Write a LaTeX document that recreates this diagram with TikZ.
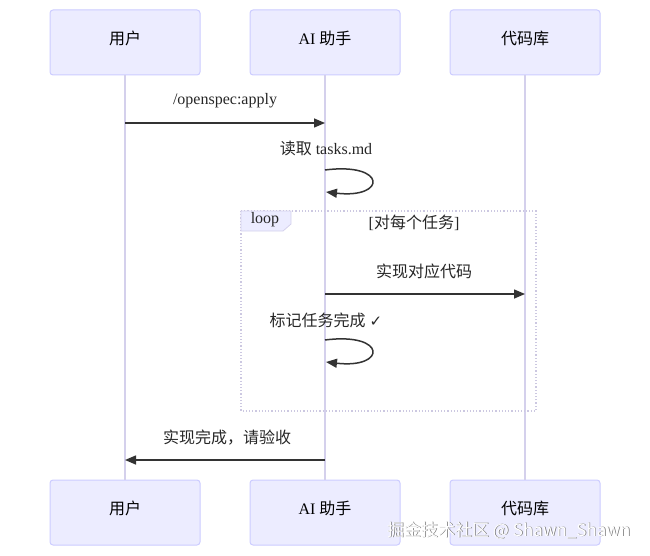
\documentclass[tikz,border=0pt]{standalone}
\usepackage{fontspec}
\setmainfont{Liberation Serif}
\newfontfamily\cjk{Noto Sans CJK SC}
\newfontfamily\symf{DejaVu Sans}
\usetikzlibrary{arrows.meta}
\definecolor{actfill}{HTML}{ECECFF}
\definecolor{actline}{HTML}{CCCCFF}
\definecolor{lifeline}{HTML}{D4D0EC}
\definecolor{msg}{HTML}{333333}
\newcommand{\actxt}[1]{\raisebox{10pt}{#1}}
\begin{document}
\begin{tikzpicture}[x=1pt,y=-1pt,
  actor/.style={draw=actline,fill=actfill,rounded corners=3pt,line width=1pt,minimum width=150pt,minimum height=65pt,inner sep=0pt,font=\fontsize{16}{19}\selectfont},
  life/.style={draw=lifeline,line width=1.2pt},
  msgline/.style={draw=msg,line width=1.5pt,-{Triangle[length=11pt,width=9pt]}},
  lbl/.style={inner sep=0pt,font=\fontsize{16}{19}\selectfont,text=black!85}]
\useasboundingbox (0,0) rectangle (650,556);
% actors
\node[actor] (u1) at (125,42.5) {\actxt{\cjk 用户}};
\node[actor] (a1) at (325,42.5) {\actxt{AI {\cjk 助手}}};
\node[actor] (c1) at (525,42.5) {\actxt{\cjk 代码库}};
\node[actor] (u2) at (125,512.5) {\actxt{\cjk 用户}};
\node[actor] (a2) at (325,512.5) {\actxt{AI {\cjk 助手}}};
\node[actor] (c2) at (525,512.5) {\actxt{\cjk 代码库}};
% lifelines
\draw[life] (u1.south) -- (u2.north);
\draw[life] (a1.south) -- (a2.north);
\draw[life] (c1.south) -- (c2.north);
% loop frame
\draw[draw=lifeline!90!gray,line width=1.2pt,dotted] (241,211) rectangle (536,411);
\draw[draw=lifeline,fill=actfill,line width=0.8pt] (241,211) -- (291,211) -- (291,224) -- (283,231) -- (241,231) -- cycle;
\node[lbl] (looplbl) at (265,220) {loop};
\node[lbl] (cond) at (414,223) {[{\cjk 对每个任务}]};
% coordinates on lifelines
\coordinate (m1s) at (125,123);
\coordinate (m1e) at (325,123);
\coordinate (s1a) at (325,170);
\coordinate (s1b) at (326,192);
\coordinate (m2s) at (325,294);
\coordinate (m2e) at (525,294);
\coordinate (s2a) at (325,340);
\coordinate (s2b) at (326,362);
\coordinate (m3s) at (325,460);
\coordinate (m3e) at (125,460);
% messages
\node[lbl] (l1) at (225,101) {/openspec:apply};
\draw[msgline] (m1s) -- (m1e);
\node[lbl] (l2) at (326,148) {{\cjk 读取} tasks.md};
\draw[msgline] (s1a) .. controls (387,162) and (387,199) .. (s1b);
\node[lbl] (l3) at (424,271) {{\cjk 实现对应代码}};
\draw[msgline] (m2s) -- (m2e);
\node[lbl] (l4) at (326,320) {{\cjk 标记任务完成} {\symf\fontsize{15}{18}\selectfont ✓}};
\draw[msgline] (s2a) .. controls (387,332) and (387,369) .. (s2b);
\node[lbl] (l5) at (227,438) {{\cjk 实现完成，请验收}};
\draw[msgline] (m3s) -- (m3e);
% watermark
\node[inner sep=0pt,font=\cjk\fontsize{17}{20}\selectfont,text=black!55] (wm0) at (509.5,531) {掘金技术社区 @ Shawn\_Shawn};
\node[inner sep=0pt,font=\cjk\fontsize{17}{20}\selectfont,text=white] (wm) at (508.8,530.3) {掘金技术社区 @ Shawn\_Shawn};
\end{tikzpicture}
\end{document}
